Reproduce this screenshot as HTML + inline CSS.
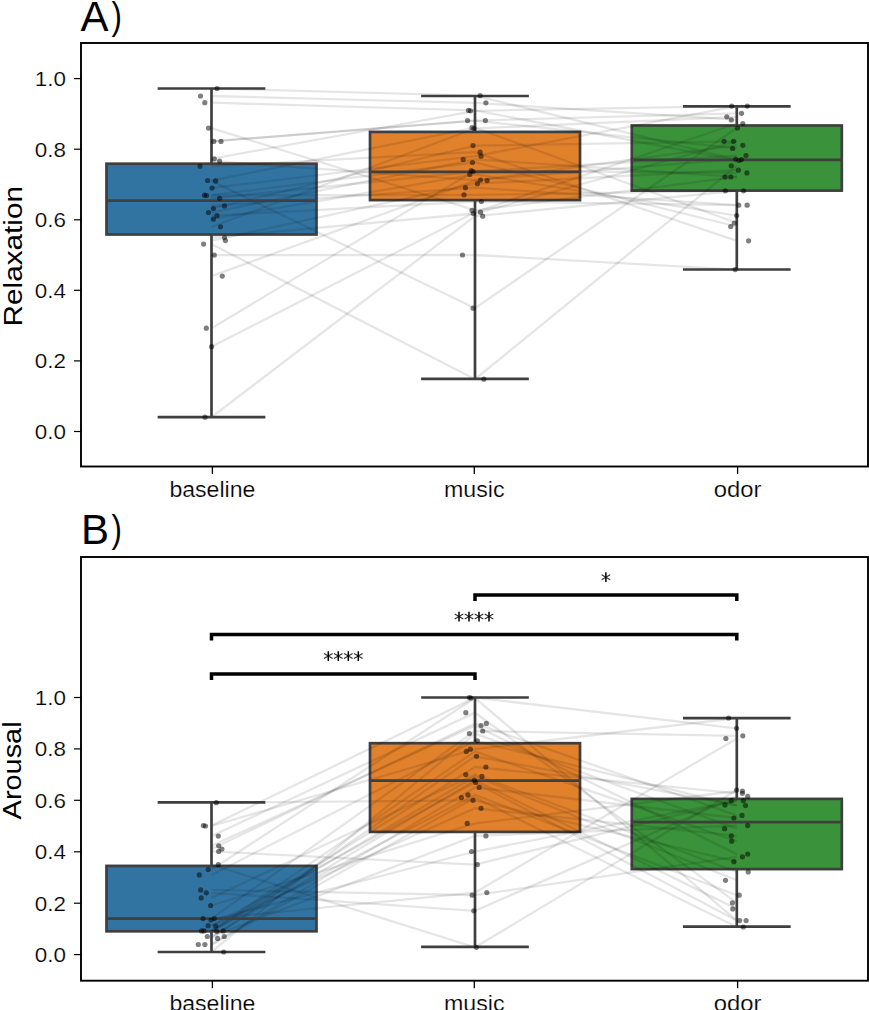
<!DOCTYPE html>
<html><head><meta charset="utf-8"><style>
html,body{margin:0;padding:0;background:#fff;}
svg{display:block;}
text{font-family:"Liberation Sans", sans-serif;fill:#000;}
.thin{stroke:#fff;stroke-width:0.2px;}
</style></head><body>
<svg width="869" height="1010" viewBox="0 0 869 1010">
<rect width="869" height="1010" fill="#fff"/>
<text x="80.6" y="31.2" font-size="42">A</text><text transform="translate(111.6,28.6) scale(0.76,0.96)" font-size="41">)</text>
<text x="81" y="543.7" font-size="42">B</text><text transform="translate(111.6,541.5) scale(0.76,0.96)" font-size="41">)</text>
<rect x="106.5" y="163.7" width="210.0" height="70.8" fill="#3274a1" stroke="#3f3f3f" stroke-width="2.7"/>
<rect x="370.0" y="131.9" width="210.0" height="68.2" fill="#e1812c" stroke="#3f3f3f" stroke-width="2.7"/>
<rect x="631.8" y="125.5" width="210.0" height="65.1" fill="#3a923a" stroke="#3f3f3f" stroke-width="2.7"/>
<polyline points="211.5,244.1 475.0,379.2 736.8,165.8" fill="none" stroke="#000" stroke-opacity="0.1" stroke-width="2.3"/>
<polyline points="211.5,180.9 475.0,308.2 736.8,128.0" fill="none" stroke="#000" stroke-opacity="0.1" stroke-width="2.3"/>
<polyline points="211.5,255.1 475.0,255.0 736.8,269.6" fill="none" stroke="#000" stroke-opacity="0.1" stroke-width="2.3"/>
<polyline points="211.5,166.2 475.0,152.2 736.8,240.8" fill="none" stroke="#000" stroke-opacity="0.1" stroke-width="2.3"/>
<polyline points="211.5,205.9 475.0,187.7 736.8,205.2" fill="none" stroke="#000" stroke-opacity="0.1" stroke-width="2.3"/>
<polyline points="211.5,215.7 475.0,201.5 736.8,205.2" fill="none" stroke="#000" stroke-opacity="0.1" stroke-width="2.3"/>
<polyline points="211.5,212.5 475.0,159.4 736.8,176.9" fill="none" stroke="#000" stroke-opacity="0.1" stroke-width="2.3"/>
<polyline points="211.5,237.5 475.0,213.5 736.8,141.3" fill="none" stroke="#000" stroke-opacity="0.1" stroke-width="2.3"/>
<polyline points="211.5,417.2 475.0,216.2 736.8,190.8" fill="none" stroke="#000" stroke-opacity="0.1" stroke-width="2.3"/>
<polyline points="211.5,195.2 475.0,162.5 736.8,226.5" fill="none" stroke="#000" stroke-opacity="0.1" stroke-width="2.3"/>
<polyline points="211.5,219.2 475.0,174.4 736.8,215.6" fill="none" stroke="#000" stroke-opacity="0.1" stroke-width="2.3"/>
<polyline points="211.5,328.2 475.0,170.6 736.8,172.9" fill="none" stroke="#000" stroke-opacity="0.1" stroke-width="2.3"/>
<polyline points="211.5,240.6 475.0,183.7 736.8,170.2" fill="none" stroke="#000" stroke-opacity="0.1" stroke-width="2.3"/>
<polyline points="211.5,180.5 475.0,127.7 736.8,223.0" fill="none" stroke="#000" stroke-opacity="0.1" stroke-width="2.3"/>
<polyline points="211.5,198.3 475.0,171.5 736.8,155.6" fill="none" stroke="#000" stroke-opacity="0.1" stroke-width="2.3"/>
<polyline points="211.5,141.4 475.0,120.6 736.8,148.4" fill="none" stroke="#000" stroke-opacity="0.1" stroke-width="2.3"/>
<polyline points="211.5,195.5 475.0,194.8 736.8,190.8" fill="none" stroke="#000" stroke-opacity="0.1" stroke-width="2.3"/>
<polyline points="211.5,346.7 475.0,212.2 736.8,123.5" fill="none" stroke="#000" stroke-opacity="0.1" stroke-width="2.3"/>
<polyline points="211.5,128.1 475.0,210.4 736.8,176.9" fill="none" stroke="#000" stroke-opacity="0.1" stroke-width="2.3"/>
<polyline points="211.5,276.1 475.0,180.6 736.8,145.3" fill="none" stroke="#000" stroke-opacity="0.1" stroke-width="2.3"/>
<polyline points="211.5,208.5 475.0,145.6 736.8,141.3" fill="none" stroke="#000" stroke-opacity="0.1" stroke-width="2.3"/>
<polyline points="211.5,102.7 475.0,110.4 736.8,160.5" fill="none" stroke="#000" stroke-opacity="0.1" stroke-width="2.3"/>
<polyline points="211.5,88.5 475.0,95.7 736.8,159.6" fill="none" stroke="#000" stroke-opacity="0.1" stroke-width="2.3"/>
<polyline points="211.5,161.0 475.0,180.1 736.8,159.1" fill="none" stroke="#000" stroke-opacity="0.1" stroke-width="2.3"/>
<polyline points="211.5,141.4 475.0,120.6 736.8,113.3" fill="none" stroke="#000" stroke-opacity="0.1" stroke-width="2.3"/>
<polyline points="211.5,226.8 475.0,128.5 736.8,116.8" fill="none" stroke="#000" stroke-opacity="0.1" stroke-width="2.3"/>
<polyline points="211.5,188.0 475.0,156.2 736.8,106.1" fill="none" stroke="#000" stroke-opacity="0.1" stroke-width="2.3"/>
<polyline points="211.5,96.0 475.0,102.8 736.8,119.9" fill="none" stroke="#000" stroke-opacity="0.1" stroke-width="2.3"/>
<polyline points="211.5,158.8 475.0,110.8 736.8,106.1" fill="none" stroke="#000" stroke-opacity="0.1" stroke-width="2.3"/>
<line x1="211.5" y1="163.7" x2="211.5" y2="88.5" stroke="#3f3f3f" stroke-width="2.7"/>
<line x1="211.5" y1="234.5" x2="211.5" y2="417.1" stroke="#3f3f3f" stroke-width="2.7"/>
<line x1="159.0" y1="88.5" x2="264.0" y2="88.5" stroke="#3f3f3f" stroke-width="2.7" stroke-linecap="square"/>
<line x1="159.0" y1="417.1" x2="264.0" y2="417.1" stroke="#3f3f3f" stroke-width="2.7" stroke-linecap="square"/>
<line x1="106.5" y1="200.6" x2="316.5" y2="200.6" stroke="#3f3f3f" stroke-width="2.7"/>
<line x1="475.0" y1="131.9" x2="475.0" y2="96.0" stroke="#3f3f3f" stroke-width="2.7"/>
<line x1="475.0" y1="200.1" x2="475.0" y2="378.8" stroke="#3f3f3f" stroke-width="2.7"/>
<line x1="422.5" y1="96.0" x2="527.5" y2="96.0" stroke="#3f3f3f" stroke-width="2.7" stroke-linecap="square"/>
<line x1="422.5" y1="378.8" x2="527.5" y2="378.8" stroke="#3f3f3f" stroke-width="2.7" stroke-linecap="square"/>
<line x1="370.0" y1="171.9" x2="580.0" y2="171.9" stroke="#3f3f3f" stroke-width="2.7"/>
<line x1="736.8" y1="125.5" x2="736.8" y2="106.3" stroke="#3f3f3f" stroke-width="2.7"/>
<line x1="736.8" y1="190.6" x2="736.8" y2="269.5" stroke="#3f3f3f" stroke-width="2.7"/>
<line x1="684.3" y1="106.3" x2="789.3" y2="106.3" stroke="#3f3f3f" stroke-width="2.7" stroke-linecap="square"/>
<line x1="684.3" y1="269.5" x2="789.3" y2="269.5" stroke="#3f3f3f" stroke-width="2.7" stroke-linecap="square"/>
<line x1="631.8" y1="159.8" x2="841.8" y2="159.8" stroke="#3f3f3f" stroke-width="2.7"/>
<circle cx="217.0" cy="88.5" r="2.6" fill="#000" fill-opacity="0.5"/>
<circle cx="200.5" cy="96.0" r="2.6" fill="#000" fill-opacity="0.5"/>
<circle cx="204.8" cy="102.7" r="2.6" fill="#000" fill-opacity="0.5"/>
<circle cx="208.5" cy="128.1" r="2.6" fill="#000" fill-opacity="0.5"/>
<circle cx="213.8" cy="141.4" r="2.6" fill="#000" fill-opacity="0.5"/>
<circle cx="221.0" cy="141.4" r="2.6" fill="#000" fill-opacity="0.5"/>
<circle cx="214.3" cy="158.8" r="2.6" fill="#000" fill-opacity="0.5"/>
<circle cx="219.6" cy="161.0" r="2.6" fill="#000" fill-opacity="0.5"/>
<circle cx="200.0" cy="166.2" r="2.6" fill="#000" fill-opacity="0.5"/>
<circle cx="207.6" cy="180.5" r="2.6" fill="#000" fill-opacity="0.5"/>
<circle cx="215.6" cy="180.9" r="2.6" fill="#000" fill-opacity="0.5"/>
<circle cx="212.0" cy="188.0" r="2.6" fill="#000" fill-opacity="0.5"/>
<circle cx="204.5" cy="195.2" r="2.6" fill="#000" fill-opacity="0.5"/>
<circle cx="206.5" cy="195.5" r="2.6" fill="#000" fill-opacity="0.5"/>
<circle cx="219.6" cy="198.3" r="2.6" fill="#000" fill-opacity="0.5"/>
<circle cx="224.5" cy="205.9" r="2.6" fill="#000" fill-opacity="0.5"/>
<circle cx="213.4" cy="208.5" r="2.6" fill="#000" fill-opacity="0.5"/>
<circle cx="208.5" cy="212.5" r="2.6" fill="#000" fill-opacity="0.5"/>
<circle cx="217.0" cy="215.7" r="2.6" fill="#000" fill-opacity="0.5"/>
<circle cx="213.4" cy="219.2" r="2.6" fill="#000" fill-opacity="0.5"/>
<circle cx="220.5" cy="226.8" r="2.6" fill="#000" fill-opacity="0.5"/>
<circle cx="224.5" cy="237.5" r="2.6" fill="#000" fill-opacity="0.5"/>
<circle cx="225.4" cy="240.6" r="2.6" fill="#000" fill-opacity="0.5"/>
<circle cx="203.6" cy="244.1" r="2.6" fill="#000" fill-opacity="0.5"/>
<circle cx="214.3" cy="255.1" r="2.6" fill="#000" fill-opacity="0.5"/>
<circle cx="222.3" cy="276.1" r="2.6" fill="#000" fill-opacity="0.5"/>
<circle cx="206.3" cy="328.2" r="2.6" fill="#000" fill-opacity="0.5"/>
<circle cx="211.6" cy="346.7" r="2.6" fill="#000" fill-opacity="0.5"/>
<circle cx="205.0" cy="417.2" r="2.6" fill="#000" fill-opacity="0.5"/>
<circle cx="480.1" cy="95.7" r="2.6" fill="#000" fill-opacity="0.5"/>
<circle cx="485.9" cy="102.8" r="2.6" fill="#000" fill-opacity="0.5"/>
<circle cx="468.5" cy="110.4" r="2.6" fill="#000" fill-opacity="0.5"/>
<circle cx="470.5" cy="110.8" r="2.6" fill="#000" fill-opacity="0.5"/>
<circle cx="467.6" cy="120.6" r="2.6" fill="#000" fill-opacity="0.5"/>
<circle cx="485.4" cy="120.6" r="2.6" fill="#000" fill-opacity="0.5"/>
<circle cx="472.0" cy="127.7" r="2.6" fill="#000" fill-opacity="0.5"/>
<circle cx="474.0" cy="128.5" r="2.6" fill="#000" fill-opacity="0.5"/>
<circle cx="473.0" cy="145.6" r="2.6" fill="#000" fill-opacity="0.5"/>
<circle cx="480.1" cy="152.2" r="2.6" fill="#000" fill-opacity="0.5"/>
<circle cx="481.0" cy="156.2" r="2.6" fill="#000" fill-opacity="0.5"/>
<circle cx="463.2" cy="159.4" r="2.6" fill="#000" fill-opacity="0.5"/>
<circle cx="472.5" cy="162.5" r="2.6" fill="#000" fill-opacity="0.5"/>
<circle cx="471.2" cy="170.6" r="2.6" fill="#000" fill-opacity="0.5"/>
<circle cx="473.0" cy="171.5" r="2.6" fill="#000" fill-opacity="0.5"/>
<circle cx="469.8" cy="174.4" r="2.6" fill="#000" fill-opacity="0.5"/>
<circle cx="480.5" cy="180.1" r="2.6" fill="#000" fill-opacity="0.5"/>
<circle cx="487.2" cy="180.6" r="2.6" fill="#000" fill-opacity="0.5"/>
<circle cx="477.4" cy="183.7" r="2.6" fill="#000" fill-opacity="0.5"/>
<circle cx="465.4" cy="187.7" r="2.6" fill="#000" fill-opacity="0.5"/>
<circle cx="464.0" cy="194.8" r="2.6" fill="#000" fill-opacity="0.5"/>
<circle cx="481.4" cy="201.5" r="2.6" fill="#000" fill-opacity="0.5"/>
<circle cx="472.0" cy="210.4" r="2.6" fill="#000" fill-opacity="0.5"/>
<circle cx="480.5" cy="212.2" r="2.6" fill="#000" fill-opacity="0.5"/>
<circle cx="473.4" cy="213.5" r="2.6" fill="#000" fill-opacity="0.5"/>
<circle cx="482.7" cy="216.2" r="2.6" fill="#000" fill-opacity="0.5"/>
<circle cx="462.5" cy="255.0" r="2.6" fill="#000" fill-opacity="0.5"/>
<circle cx="473.1" cy="308.2" r="2.6" fill="#000" fill-opacity="0.5"/>
<circle cx="483.8" cy="379.2" r="2.6" fill="#000" fill-opacity="0.5"/>
<circle cx="731.7" cy="106.1" r="2.6" fill="#000" fill-opacity="0.5"/>
<circle cx="747.3" cy="106.1" r="2.6" fill="#000" fill-opacity="0.5"/>
<circle cx="741.5" cy="113.3" r="2.6" fill="#000" fill-opacity="0.5"/>
<circle cx="726.8" cy="116.8" r="2.6" fill="#000" fill-opacity="0.5"/>
<circle cx="731.3" cy="119.9" r="2.6" fill="#000" fill-opacity="0.5"/>
<circle cx="742.8" cy="123.5" r="2.6" fill="#000" fill-opacity="0.5"/>
<circle cx="737.5" cy="128.0" r="2.6" fill="#000" fill-opacity="0.5"/>
<circle cx="724.1" cy="141.3" r="2.6" fill="#000" fill-opacity="0.5"/>
<circle cx="733.5" cy="141.3" r="2.6" fill="#000" fill-opacity="0.5"/>
<circle cx="742.8" cy="145.3" r="2.6" fill="#000" fill-opacity="0.5"/>
<circle cx="732.6" cy="148.4" r="2.6" fill="#000" fill-opacity="0.5"/>
<circle cx="746.0" cy="155.6" r="2.6" fill="#000" fill-opacity="0.5"/>
<circle cx="735.7" cy="159.1" r="2.6" fill="#000" fill-opacity="0.5"/>
<circle cx="741.5" cy="159.6" r="2.6" fill="#000" fill-opacity="0.5"/>
<circle cx="739.0" cy="160.5" r="2.6" fill="#000" fill-opacity="0.5"/>
<circle cx="731.3" cy="165.8" r="2.6" fill="#000" fill-opacity="0.5"/>
<circle cx="738.4" cy="170.2" r="2.6" fill="#000" fill-opacity="0.5"/>
<circle cx="746.9" cy="172.9" r="2.6" fill="#000" fill-opacity="0.5"/>
<circle cx="725.0" cy="176.9" r="2.6" fill="#000" fill-opacity="0.5"/>
<circle cx="730.8" cy="176.9" r="2.6" fill="#000" fill-opacity="0.5"/>
<circle cx="725.3" cy="190.8" r="2.6" fill="#000" fill-opacity="0.5"/>
<circle cx="743.6" cy="190.8" r="2.6" fill="#000" fill-opacity="0.5"/>
<circle cx="738.7" cy="205.2" r="2.6" fill="#000" fill-opacity="0.5"/>
<circle cx="747.1" cy="205.2" r="2.6" fill="#000" fill-opacity="0.5"/>
<circle cx="736.7" cy="215.6" r="2.6" fill="#000" fill-opacity="0.5"/>
<circle cx="734.2" cy="223.0" r="2.6" fill="#000" fill-opacity="0.5"/>
<circle cx="730.7" cy="226.5" r="2.6" fill="#000" fill-opacity="0.5"/>
<circle cx="748.6" cy="240.8" r="2.6" fill="#000" fill-opacity="0.5"/>
<circle cx="735.2" cy="269.6" r="2.6" fill="#000" fill-opacity="0.5"/>
<rect x="81.0" y="43" width="787.0" height="423.5" fill="none" stroke="#000" stroke-width="1.9"/>
<line x1="74" y1="431.5" x2="81.0" y2="431.5" stroke="#000" stroke-width="1.2"/>
<text class="thin" x="66" y="438.8" text-anchor="end" font-size="20.3" textLength="31.2" lengthAdjust="spacingAndGlyphs">0.0</text>
<line x1="74" y1="360.9" x2="81.0" y2="360.9" stroke="#000" stroke-width="1.2"/>
<text class="thin" x="66" y="368.2" text-anchor="end" font-size="20.3" textLength="31.2" lengthAdjust="spacingAndGlyphs">0.2</text>
<line x1="74" y1="290.3" x2="81.0" y2="290.3" stroke="#000" stroke-width="1.2"/>
<text class="thin" x="66" y="297.6" text-anchor="end" font-size="20.3" textLength="31.2" lengthAdjust="spacingAndGlyphs">0.4</text>
<line x1="74" y1="219.8" x2="81.0" y2="219.8" stroke="#000" stroke-width="1.2"/>
<text class="thin" x="66" y="227.1" text-anchor="end" font-size="20.3" textLength="31.2" lengthAdjust="spacingAndGlyphs">0.6</text>
<line x1="74" y1="149.2" x2="81.0" y2="149.2" stroke="#000" stroke-width="1.2"/>
<text class="thin" x="66" y="156.5" text-anchor="end" font-size="20.3" textLength="31.2" lengthAdjust="spacingAndGlyphs">0.8</text>
<line x1="74" y1="78.6" x2="81.0" y2="78.6" stroke="#000" stroke-width="1.2"/>
<text class="thin" x="66" y="85.9" text-anchor="end" font-size="20.3" textLength="31.2" lengthAdjust="spacingAndGlyphs">1.0</text>
<line x1="212.4" y1="466.5" x2="212.4" y2="474.0" stroke="#000" stroke-width="1.3"/>
<text class="thin" x="212.4" y="496.6" text-anchor="middle" font-size="21.4" textLength="86.0" lengthAdjust="spacingAndGlyphs">baseline</text>
<line x1="474.3" y1="466.5" x2="474.3" y2="474.0" stroke="#000" stroke-width="1.3"/>
<text class="thin" x="474.3" y="496.6" text-anchor="middle" font-size="21.4" textLength="60.6" lengthAdjust="spacingAndGlyphs">music</text>
<line x1="737.6" y1="466.5" x2="737.6" y2="474.0" stroke="#000" stroke-width="1.3"/>
<text class="thin" x="737.6" y="496.6" text-anchor="middle" font-size="21.4" textLength="47.7" lengthAdjust="spacingAndGlyphs">odor</text>
<text transform="translate(21.8,256.2) rotate(-90)" text-anchor="middle" font-size="26" textLength="140.5" lengthAdjust="spacingAndGlyphs">Relaxation</text>
<rect x="106.5" y="865.9" width="210.0" height="65.4" fill="#3274a1" stroke="#3f3f3f" stroke-width="2.7"/>
<rect x="370.0" y="743.2" width="210.0" height="88.7" fill="#e1812c" stroke="#3f3f3f" stroke-width="2.7"/>
<rect x="631.8" y="798.9" width="210.0" height="70.2" fill="#3a923a" stroke="#3f3f3f" stroke-width="2.7"/>
<polyline points="211.5,825.6 475.0,697.6 736.8,728.3" fill="none" stroke="#000" stroke-opacity="0.1" stroke-width="2.3"/>
<polyline points="211.5,869.5 475.0,698.0 736.8,920.6" fill="none" stroke="#000" stroke-opacity="0.1" stroke-width="2.3"/>
<polyline points="211.5,864.7 475.0,947.3 736.8,790.1" fill="none" stroke="#000" stroke-opacity="0.1" stroke-width="2.3"/>
<polyline points="211.5,851.4 475.0,864.6 736.8,800.7" fill="none" stroke="#000" stroke-opacity="0.1" stroke-width="2.3"/>
<polyline points="211.5,936.5 475.0,780.2 736.8,908.9" fill="none" stroke="#000" stroke-opacity="0.1" stroke-width="2.3"/>
<polyline points="211.5,802.7 475.0,800.3 736.8,861.7" fill="none" stroke="#000" stroke-opacity="0.1" stroke-width="2.3"/>
<polyline points="211.5,944.5 475.0,797.6 736.8,927.0" fill="none" stroke="#000" stroke-opacity="0.1" stroke-width="2.3"/>
<polyline points="211.5,836.1 475.0,712.7 736.8,902.9" fill="none" stroke="#000" stroke-opacity="0.1" stroke-width="2.3"/>
<polyline points="211.5,845.8 475.0,725.6 736.8,854.1" fill="none" stroke="#000" stroke-opacity="0.1" stroke-width="2.3"/>
<polyline points="211.5,897.9 475.0,774.6 736.8,871.9" fill="none" stroke="#000" stroke-opacity="0.1" stroke-width="2.3"/>
<polyline points="211.5,930.9 475.0,776.4 736.8,880.3" fill="none" stroke="#000" stroke-opacity="0.1" stroke-width="2.3"/>
<polyline points="211.5,931.3 475.0,794.9 736.8,895.2" fill="none" stroke="#000" stroke-opacity="0.1" stroke-width="2.3"/>
<polyline points="211.5,944.5 475.0,787.4 736.8,818.0" fill="none" stroke="#000" stroke-opacity="0.1" stroke-width="2.3"/>
<polyline points="211.5,952.0 475.0,733.6 736.8,828.7" fill="none" stroke="#000" stroke-opacity="0.1" stroke-width="2.3"/>
<polyline points="211.5,849.0 475.0,723.4 736.8,815.4" fill="none" stroke="#000" stroke-opacity="0.1" stroke-width="2.3"/>
<polyline points="211.5,936.5 475.0,835.9 736.8,825.6" fill="none" stroke="#000" stroke-opacity="0.1" stroke-width="2.3"/>
<polyline points="211.5,930.9 475.0,767.0 736.8,793.3" fill="none" stroke="#000" stroke-opacity="0.1" stroke-width="2.3"/>
<polyline points="211.5,889.9 475.0,895.2 736.8,856.8" fill="none" stroke="#000" stroke-opacity="0.1" stroke-width="2.3"/>
<polyline points="211.5,918.6 475.0,731.0 736.8,735.8" fill="none" stroke="#000" stroke-opacity="0.1" stroke-width="2.3"/>
<polyline points="211.5,925.7 475.0,782.5 736.8,920.6" fill="none" stroke="#000" stroke-opacity="0.1" stroke-width="2.3"/>
<polyline points="211.5,938.4 475.0,756.3 736.8,805.1" fill="none" stroke="#000" stroke-opacity="0.1" stroke-width="2.3"/>
<polyline points="211.5,926.1 475.0,808.3 736.8,835.9" fill="none" stroke="#000" stroke-opacity="0.1" stroke-width="2.3"/>
<polyline points="211.5,918.6 475.0,892.6 736.8,738.5" fill="none" stroke="#000" stroke-opacity="0.1" stroke-width="2.3"/>
<polyline points="211.5,874.9 475.0,740.8 736.8,805.6" fill="none" stroke="#000" stroke-opacity="0.1" stroke-width="2.3"/>
<polyline points="211.5,920.0 475.0,851.5 736.8,800.7" fill="none" stroke="#000" stroke-opacity="0.1" stroke-width="2.3"/>
<polyline points="211.5,892.8 475.0,910.8 736.8,796.4" fill="none" stroke="#000" stroke-opacity="0.1" stroke-width="2.3"/>
<polyline points="211.5,930.9 475.0,751.4 736.8,841.2" fill="none" stroke="#000" stroke-opacity="0.1" stroke-width="2.3"/>
<polyline points="211.5,826.0 475.0,749.2 736.8,718.0" fill="none" stroke="#000" stroke-opacity="0.1" stroke-width="2.3"/>
<polyline points="211.5,905.5 475.0,823.4 736.8,791.0" fill="none" stroke="#000" stroke-opacity="0.1" stroke-width="2.3"/>
<line x1="211.5" y1="865.9" x2="211.5" y2="802.4" stroke="#3f3f3f" stroke-width="2.7"/>
<line x1="211.5" y1="931.3" x2="211.5" y2="952.0" stroke="#3f3f3f" stroke-width="2.7"/>
<line x1="159.0" y1="802.4" x2="264.0" y2="802.4" stroke="#3f3f3f" stroke-width="2.7" stroke-linecap="square"/>
<line x1="159.0" y1="952.0" x2="264.0" y2="952.0" stroke="#3f3f3f" stroke-width="2.7" stroke-linecap="square"/>
<line x1="106.5" y1="918.6" x2="316.5" y2="918.6" stroke="#3f3f3f" stroke-width="2.7"/>
<line x1="475.0" y1="743.2" x2="475.0" y2="697.5" stroke="#3f3f3f" stroke-width="2.7"/>
<line x1="475.0" y1="831.9" x2="475.0" y2="946.9" stroke="#3f3f3f" stroke-width="2.7"/>
<line x1="422.5" y1="697.5" x2="527.5" y2="697.5" stroke="#3f3f3f" stroke-width="2.7" stroke-linecap="square"/>
<line x1="422.5" y1="946.9" x2="527.5" y2="946.9" stroke="#3f3f3f" stroke-width="2.7" stroke-linecap="square"/>
<line x1="370.0" y1="780.6" x2="580.0" y2="780.6" stroke="#3f3f3f" stroke-width="2.7"/>
<line x1="736.8" y1="798.9" x2="736.8" y2="718.1" stroke="#3f3f3f" stroke-width="2.7"/>
<line x1="736.8" y1="869.1" x2="736.8" y2="926.6" stroke="#3f3f3f" stroke-width="2.7"/>
<line x1="684.3" y1="718.1" x2="789.3" y2="718.1" stroke="#3f3f3f" stroke-width="2.7" stroke-linecap="square"/>
<line x1="684.3" y1="926.6" x2="789.3" y2="926.6" stroke="#3f3f3f" stroke-width="2.7" stroke-linecap="square"/>
<line x1="631.8" y1="822.1" x2="841.8" y2="822.1" stroke="#3f3f3f" stroke-width="2.7"/>
<circle cx="216.3" cy="802.7" r="2.6" fill="#000" fill-opacity="0.5"/>
<circle cx="203.4" cy="825.6" r="2.6" fill="#000" fill-opacity="0.5"/>
<circle cx="205.5" cy="826.0" r="2.6" fill="#000" fill-opacity="0.5"/>
<circle cx="218.3" cy="836.1" r="2.6" fill="#000" fill-opacity="0.5"/>
<circle cx="218.7" cy="845.8" r="2.6" fill="#000" fill-opacity="0.5"/>
<circle cx="221.9" cy="849.0" r="2.6" fill="#000" fill-opacity="0.5"/>
<circle cx="218.7" cy="851.4" r="2.6" fill="#000" fill-opacity="0.5"/>
<circle cx="218.3" cy="864.7" r="2.6" fill="#000" fill-opacity="0.5"/>
<circle cx="208.2" cy="869.5" r="2.6" fill="#000" fill-opacity="0.5"/>
<circle cx="199.3" cy="874.9" r="2.6" fill="#000" fill-opacity="0.5"/>
<circle cx="200.7" cy="889.9" r="2.6" fill="#000" fill-opacity="0.5"/>
<circle cx="206.3" cy="892.8" r="2.6" fill="#000" fill-opacity="0.5"/>
<circle cx="201.2" cy="897.9" r="2.6" fill="#000" fill-opacity="0.5"/>
<circle cx="210.6" cy="905.5" r="2.6" fill="#000" fill-opacity="0.5"/>
<circle cx="203.0" cy="918.6" r="2.6" fill="#000" fill-opacity="0.5"/>
<circle cx="214.3" cy="918.6" r="2.6" fill="#000" fill-opacity="0.5"/>
<circle cx="208.2" cy="925.7" r="2.6" fill="#000" fill-opacity="0.5"/>
<circle cx="215.7" cy="926.1" r="2.6" fill="#000" fill-opacity="0.5"/>
<circle cx="201.6" cy="930.9" r="2.6" fill="#000" fill-opacity="0.5"/>
<circle cx="204.0" cy="930.9" r="2.6" fill="#000" fill-opacity="0.5"/>
<circle cx="216.7" cy="931.3" r="2.6" fill="#000" fill-opacity="0.5"/>
<circle cx="223.3" cy="930.9" r="2.6" fill="#000" fill-opacity="0.5"/>
<circle cx="207.3" cy="936.5" r="2.6" fill="#000" fill-opacity="0.5"/>
<circle cx="224.2" cy="936.5" r="2.6" fill="#000" fill-opacity="0.5"/>
<circle cx="217.6" cy="938.4" r="2.6" fill="#000" fill-opacity="0.5"/>
<circle cx="198.3" cy="944.5" r="2.6" fill="#000" fill-opacity="0.5"/>
<circle cx="204.9" cy="944.5" r="2.6" fill="#000" fill-opacity="0.5"/>
<circle cx="223.7" cy="952.0" r="2.6" fill="#000" fill-opacity="0.5"/>
<circle cx="211.0" cy="920.0" r="2.6" fill="#000" fill-opacity="0.5"/>
<circle cx="469.4" cy="697.6" r="2.6" fill="#000" fill-opacity="0.5"/>
<circle cx="471.0" cy="698.0" r="2.6" fill="#000" fill-opacity="0.5"/>
<circle cx="465.8" cy="712.7" r="2.6" fill="#000" fill-opacity="0.5"/>
<circle cx="486.3" cy="723.4" r="2.6" fill="#000" fill-opacity="0.5"/>
<circle cx="481.0" cy="725.6" r="2.6" fill="#000" fill-opacity="0.5"/>
<circle cx="482.7" cy="731.0" r="2.6" fill="#000" fill-opacity="0.5"/>
<circle cx="469.4" cy="733.6" r="2.6" fill="#000" fill-opacity="0.5"/>
<circle cx="477.4" cy="740.8" r="2.6" fill="#000" fill-opacity="0.5"/>
<circle cx="470.3" cy="749.2" r="2.6" fill="#000" fill-opacity="0.5"/>
<circle cx="466.3" cy="751.4" r="2.6" fill="#000" fill-opacity="0.5"/>
<circle cx="476.5" cy="756.3" r="2.6" fill="#000" fill-opacity="0.5"/>
<circle cx="485.9" cy="767.0" r="2.6" fill="#000" fill-opacity="0.5"/>
<circle cx="465.8" cy="774.6" r="2.6" fill="#000" fill-opacity="0.5"/>
<circle cx="481.9" cy="776.4" r="2.6" fill="#000" fill-opacity="0.5"/>
<circle cx="474.3" cy="780.2" r="2.6" fill="#000" fill-opacity="0.5"/>
<circle cx="475.6" cy="782.5" r="2.6" fill="#000" fill-opacity="0.5"/>
<circle cx="479.2" cy="787.4" r="2.6" fill="#000" fill-opacity="0.5"/>
<circle cx="468.0" cy="794.9" r="2.6" fill="#000" fill-opacity="0.5"/>
<circle cx="461.4" cy="797.6" r="2.6" fill="#000" fill-opacity="0.5"/>
<circle cx="473.0" cy="800.3" r="2.6" fill="#000" fill-opacity="0.5"/>
<circle cx="481.0" cy="808.3" r="2.6" fill="#000" fill-opacity="0.5"/>
<circle cx="467.2" cy="823.4" r="2.6" fill="#000" fill-opacity="0.5"/>
<circle cx="485.9" cy="835.9" r="2.6" fill="#000" fill-opacity="0.5"/>
<circle cx="471.6" cy="851.5" r="2.6" fill="#000" fill-opacity="0.5"/>
<circle cx="477.4" cy="864.6" r="2.6" fill="#000" fill-opacity="0.5"/>
<circle cx="486.8" cy="892.6" r="2.6" fill="#000" fill-opacity="0.5"/>
<circle cx="472.2" cy="895.2" r="2.6" fill="#000" fill-opacity="0.5"/>
<circle cx="473.8" cy="910.8" r="2.6" fill="#000" fill-opacity="0.5"/>
<circle cx="476.4" cy="947.3" r="2.6" fill="#000" fill-opacity="0.5"/>
<circle cx="728.6" cy="718.0" r="2.6" fill="#000" fill-opacity="0.5"/>
<circle cx="736.6" cy="728.3" r="2.6" fill="#000" fill-opacity="0.5"/>
<circle cx="742.8" cy="735.8" r="2.6" fill="#000" fill-opacity="0.5"/>
<circle cx="725.9" cy="738.5" r="2.6" fill="#000" fill-opacity="0.5"/>
<circle cx="736.6" cy="790.1" r="2.6" fill="#000" fill-opacity="0.5"/>
<circle cx="742.4" cy="791.0" r="2.6" fill="#000" fill-opacity="0.5"/>
<circle cx="742.4" cy="793.3" r="2.6" fill="#000" fill-opacity="0.5"/>
<circle cx="747.7" cy="796.4" r="2.6" fill="#000" fill-opacity="0.5"/>
<circle cx="731.3" cy="800.7" r="2.6" fill="#000" fill-opacity="0.5"/>
<circle cx="743.3" cy="800.7" r="2.6" fill="#000" fill-opacity="0.5"/>
<circle cx="725.0" cy="805.1" r="2.6" fill="#000" fill-opacity="0.5"/>
<circle cx="745.5" cy="805.6" r="2.6" fill="#000" fill-opacity="0.5"/>
<circle cx="742.0" cy="815.4" r="2.6" fill="#000" fill-opacity="0.5"/>
<circle cx="733.9" cy="818.0" r="2.6" fill="#000" fill-opacity="0.5"/>
<circle cx="747.7" cy="825.6" r="2.6" fill="#000" fill-opacity="0.5"/>
<circle cx="724.6" cy="828.7" r="2.6" fill="#000" fill-opacity="0.5"/>
<circle cx="731.3" cy="835.9" r="2.6" fill="#000" fill-opacity="0.5"/>
<circle cx="731.7" cy="841.2" r="2.6" fill="#000" fill-opacity="0.5"/>
<circle cx="747.7" cy="854.1" r="2.6" fill="#000" fill-opacity="0.5"/>
<circle cx="742.4" cy="856.8" r="2.6" fill="#000" fill-opacity="0.5"/>
<circle cx="733.9" cy="861.7" r="2.6" fill="#000" fill-opacity="0.5"/>
<circle cx="748.2" cy="871.9" r="2.6" fill="#000" fill-opacity="0.5"/>
<circle cx="725.5" cy="880.3" r="2.6" fill="#000" fill-opacity="0.5"/>
<circle cx="739.2" cy="895.2" r="2.6" fill="#000" fill-opacity="0.5"/>
<circle cx="732.4" cy="902.9" r="2.6" fill="#000" fill-opacity="0.5"/>
<circle cx="732.8" cy="908.9" r="2.6" fill="#000" fill-opacity="0.5"/>
<circle cx="739.6" cy="920.6" r="2.6" fill="#000" fill-opacity="0.5"/>
<circle cx="746.1" cy="920.6" r="2.6" fill="#000" fill-opacity="0.5"/>
<circle cx="743.3" cy="927.0" r="2.6" fill="#000" fill-opacity="0.5"/>
<rect x="81.0" y="557" width="787.0" height="423.70000000000005" fill="none" stroke="#000" stroke-width="1.9"/>
<line x1="74" y1="954.6" x2="81.0" y2="954.6" stroke="#000" stroke-width="1.2"/>
<text class="thin" x="66" y="961.9" text-anchor="end" font-size="20.3" textLength="31.2" lengthAdjust="spacingAndGlyphs">0.0</text>
<line x1="74" y1="903.2" x2="81.0" y2="903.2" stroke="#000" stroke-width="1.2"/>
<text class="thin" x="66" y="910.5" text-anchor="end" font-size="20.3" textLength="31.2" lengthAdjust="spacingAndGlyphs">0.2</text>
<line x1="74" y1="851.8" x2="81.0" y2="851.8" stroke="#000" stroke-width="1.2"/>
<text class="thin" x="66" y="859.1" text-anchor="end" font-size="20.3" textLength="31.2" lengthAdjust="spacingAndGlyphs">0.4</text>
<line x1="74" y1="800.3" x2="81.0" y2="800.3" stroke="#000" stroke-width="1.2"/>
<text class="thin" x="66" y="807.6" text-anchor="end" font-size="20.3" textLength="31.2" lengthAdjust="spacingAndGlyphs">0.6</text>
<line x1="74" y1="748.9" x2="81.0" y2="748.9" stroke="#000" stroke-width="1.2"/>
<text class="thin" x="66" y="756.2" text-anchor="end" font-size="20.3" textLength="31.2" lengthAdjust="spacingAndGlyphs">0.8</text>
<line x1="74" y1="697.5" x2="81.0" y2="697.5" stroke="#000" stroke-width="1.2"/>
<text class="thin" x="66" y="704.8" text-anchor="end" font-size="20.3" textLength="31.2" lengthAdjust="spacingAndGlyphs">1.0</text>
<line x1="212.4" y1="980.7" x2="212.4" y2="988.2" stroke="#000" stroke-width="1.3"/>
<text class="thin" x="212.4" y="1010.8" text-anchor="middle" font-size="21.4" textLength="86.0" lengthAdjust="spacingAndGlyphs">baseline</text>
<line x1="474.3" y1="980.7" x2="474.3" y2="988.2" stroke="#000" stroke-width="1.3"/>
<text class="thin" x="474.3" y="1010.8" text-anchor="middle" font-size="21.4" textLength="60.6" lengthAdjust="spacingAndGlyphs">music</text>
<line x1="737.6" y1="980.7" x2="737.6" y2="988.2" stroke="#000" stroke-width="1.3"/>
<text class="thin" x="737.6" y="1010.8" text-anchor="middle" font-size="21.4" textLength="47.7" lengthAdjust="spacingAndGlyphs">odor</text>
<text transform="translate(20.6,770.4) rotate(-90)" text-anchor="middle" font-size="26" textLength="98" lengthAdjust="spacingAndGlyphs">Arousal</text>
<path d="M211.5,679.9 L211.5,673.9 L475.0,673.9 L475.0,679.9" fill="none" stroke="#000" stroke-width="3.5"/>
<path d="M211.5,640.5 L211.5,634.5 L736.8,634.5 L736.8,640.5" fill="none" stroke="#000" stroke-width="3.5"/>
<path d="M475.0,601.0 L475.0,595.0 L736.8,595.0 L736.8,601.0" fill="none" stroke="#000" stroke-width="3.5"/>
<path d="M328.3,651.2V661.0M338.3,651.2V661.0M348.3,651.2V661.0M358.3,651.2V661.0M459.0,611.7V621.5M469.0,611.7V621.5M479.0,611.7V621.5M489.0,611.7V621.5M605.9,572.3V582.1" stroke="#000" stroke-width="1.5" fill="none"/>
<path d="M324.0,653.6L332.6,658.6M324.0,658.6L332.6,653.6M334.0,653.6L342.6,658.6M334.0,658.6L342.6,653.6M344.0,653.6L352.6,658.6M344.0,658.6L352.6,653.6M354.0,653.6L362.6,658.6M354.0,658.6L362.6,653.6M454.7,614.1L463.3,619.1M454.7,619.1L463.3,614.1M464.7,614.1L473.3,619.1M464.7,619.1L473.3,614.1M474.7,614.1L483.3,619.1M474.7,619.1L483.3,614.1M484.7,614.1L493.3,619.1M484.7,619.1L493.3,614.1M601.6,574.7L610.2,579.7M601.6,579.7L610.2,574.7" stroke="#000" stroke-opacity="0.8" stroke-width="1.15" fill="none"/>
</svg>
</body></html>
